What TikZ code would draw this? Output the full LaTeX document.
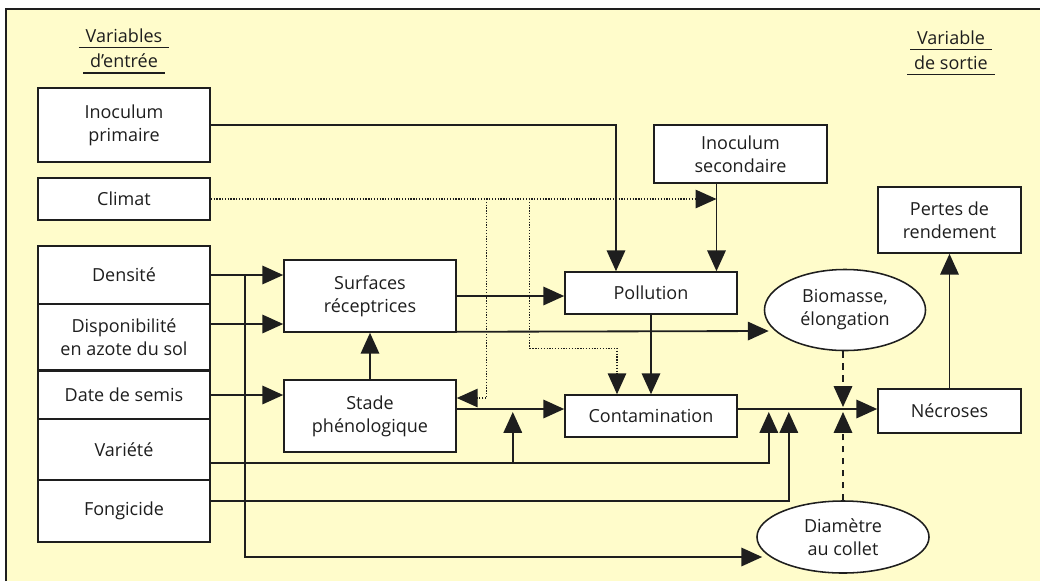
\documentclass[tikz,border=0pt]{standalone}
\usepackage{fontspec}
\setmainfont{Open Sans}
\usetikzlibrary{arrows.meta, shapes.geometric, calc}
\definecolor{cpaper}{HTML}{FFFCCB}
\definecolor{cink}{HTML}{1E1E1E}
\tikzset{
  every picture/.style={font=\fontsize{12.8}{16.3}\selectfont, line width=1.3pt, color=cink},
  box/.style={draw=cink, fill=white, align=center, inner sep=3pt, line width=1.1pt},
  oval/.style={ellipse, draw=cink, fill=white, align=center, inner sep=0pt, line width=1.1pt},
  heading/.style={inner xsep=0.15cm, inner ysep=0.1cm, text depth=0pt},
  arrow/.style={-{Triangle[length=0.52cm, width=0.46cm]}},
  dotline/.style={line width=0.9pt, dash pattern=on 0.9pt off 1.1pt},
  dashline/.style={dash pattern=on 4.5pt off 4pt},
}
\begin{document}
\begin{tikzpicture}[x=0.025cm, y=-0.025cm]
  \useasboundingbox (0,0) rectangle (1040,581);
  \fill[cpaper] (6,9) rectangle (1040,581);
  \draw[line width=1.5pt] (6,581) -- (6,9) -- (1040,9);
  % headings
  \node[heading] (tin1) at (124,36) {Variables};
  \node[heading] (tin2) at (124,61) {d'entrée};
  \node[heading] (tout1) at (951,38) {Variable};
  \node[heading] (tout2) at (951,63) {de sortie};
  \foreach \h in {tin1, tin2, tout1, tout2}
    \draw[line width=1pt] (\h.south west) -- (\h.south east);
  % input column
  \node[box, minimum width=4.3cm, minimum height=1.85cm] (inoc1) at (124,125) {Inoculum\\primaire};
  \node[box, minimum width=4.3cm, minimum height=1.05cm] (climat) at (124,199) {Climat};
  \node[box, minimum width=4.3cm, minimum height=1.45cm] (densite) at (124,275) {Densité};
  \node[box, minimum width=4.3cm, minimum height=1.65cm] (dispo) at (124,337) {Disponibilité\\en azote du sol};
  \node[box, minimum width=4.3cm, minimum height=1.2cm] (semis) at (124,395) {Date de semis};
  \node[box, minimum width=4.3cm, minimum height=1.55cm] (variete) at (124,450) {Variété};
  \node[box, minimum width=4.3cm, minimum height=1.55cm] (fongi) at (124,511) {Fongicide};
  % model
  \node[box, minimum width=4.3cm, minimum height=1.8cm] (surf) at (370,296) {Surfaces\\réceptrices};
  \node[box, minimum width=4.3cm, minimum height=1.8cm] (stade) at (370,416) {Stade\\phénologique};
  \node[box, minimum width=4.3cm, minimum height=1.05cm] (pollu) at (651,293) {Pollution};
  \node[box, minimum width=4.3cm, minimum height=1.05cm] (conta) at (651,416) {Contamination};
  \node[box, minimum width=4.325cm, minimum height=1.45cm] (inoc2) at (740.5,154) {Inoculum\\secondaire};
  \node[oval, minimum width=4.025cm, minimum height=2.025cm] (bioma) at (845,310) {Biomasse,\\élongation};
  \node[oval, minimum width=4.3cm, minimum height=1.8cm] (diam) at (843,537) {Diamètre\\au collet};
  % output
  \node[box, minimum width=3.575cm, minimum height=1.1cm] (necro) at (949.5,411) {Nécroses};
  \node[box, minimum width=3.575cm, minimum height=1.65cm] (pertes) at (949.5,220) {Pertes de\\rendement};
  % helper points
  \coordinate (isec) at ($(inoc2.south)+(-24,0)$);
  \coordinate (cl1) at ($(climat.east)+(276,0)$);
  \coordinate (cl2) at ($(climat.east)+(319,0)$);
  \coordinate (bus) at ($(densite.east)+(34,0)$);
  \coordinate (dsp) at ($(dispo.east)+(0,-13)$);
  \coordinate (var) at ($(variete.east)+(0,13)$);
  \coordinate (fng) at ($(fongi.east)+(0,-10)$);
  \coordinate (sc) at ($(stade.east)+(0,-7)$);
  \coordinate (vb) at ($(sc)+(56,0)$);
  \coordinate (cn) at ($(conta.east)+(0,-7)$);
  % inoculum
  \draw[arrow] (inoc1.east) -| ($(pollu.north)+(-35,0)$);
  \draw[arrow] (isec) -- (isec |- pollu.north);
  % climate, dotted
  \draw[dotline, arrow] (climat.east) -- (isec |- climat.east);
  \draw[dotline, arrow] (cl1) |- ($(stade.east)+(0,-18)$);
  \draw[dotline, arrow] (cl2) |- ($(conta.north)+(-34,-46)$) -- ($(conta.north)+(-34,0)$);
  % crop inputs
  \draw[arrow] (densite.east) -- (densite.east -| surf.west);
  \draw[arrow] (dsp) -- (dsp -| surf.west);
  \draw[arrow] (semis.east) -- (semis.east -| stade.west);
  \draw[arrow] (bus) |- ($(diam.west)+(6,20)$);
  \draw[arrow] (var) -| ($(cn)+(31,3)$);
  \draw[arrow] (vb |- var) -- ($(vb)+(0,3)$);
  \draw[arrow] (fng) -| ($(cn)+(51,3)$);
  % inside the model
  \draw[arrow] (stade.north) -- (surf.south);
  \draw[arrow] (surf.east) -- (surf.east -| pollu.west);
  \draw[arrow] ($(surf.south east)+(0,-1)$) -- ($(bioma.west)+(5,21)$);
  \draw[arrow] (sc) -- (sc -| conta.west);
  \draw[arrow] (pollu.south) -- (conta.north);
  \draw[arrow] (cn) -- (cn -| necro.west);
  \draw[dashline, arrow] ($(bioma.south)+(-2,0)$) -- ($(bioma.south |- cn)+(-2,-2)$);
  \draw[dashline, arrow] (diam.north) -- ($(diam.north |- cn)+(0,3)$);
  \draw[arrow] (necro.north) -- (pertes.south);
\end{tikzpicture}
\end{document}
